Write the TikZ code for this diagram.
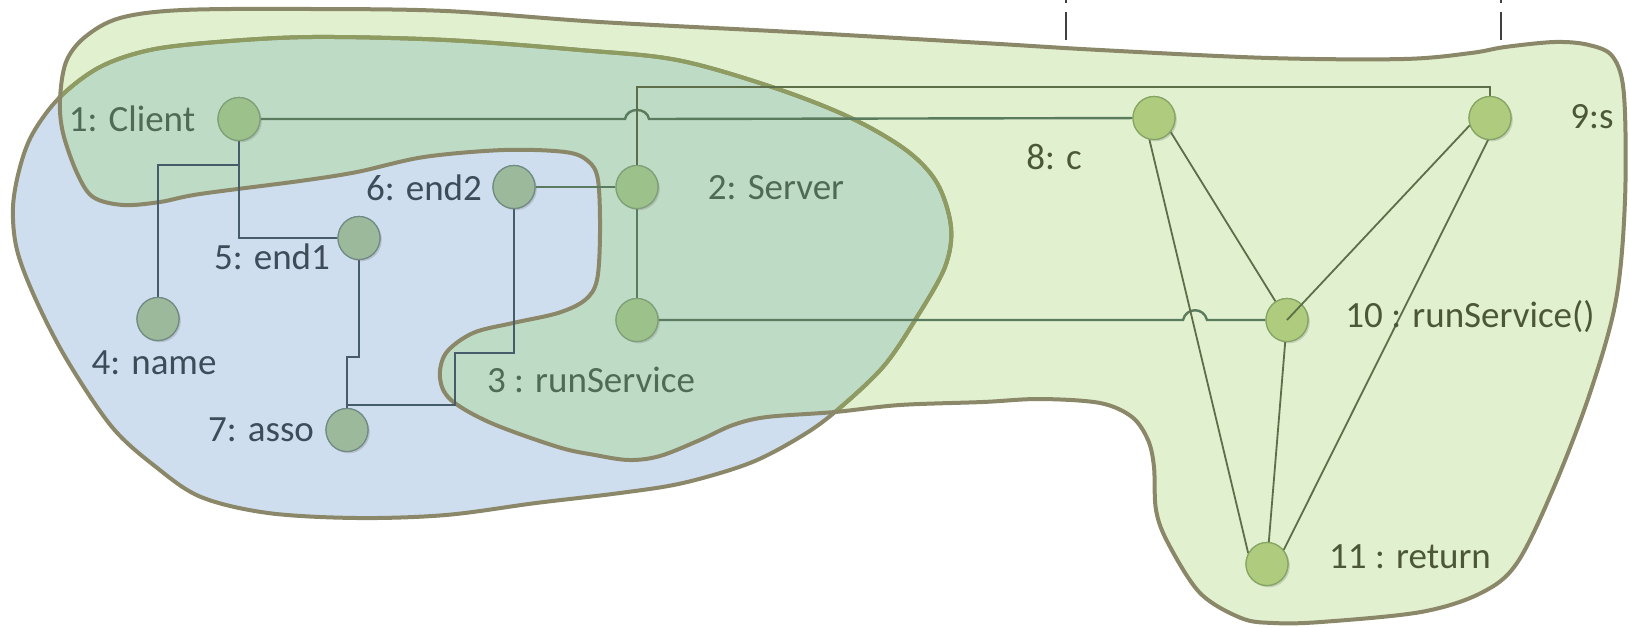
\documentclass[tikz,border=0pt]{standalone}
\usepackage{fontspec}
\setmainfont{Carlito}
\usetikzlibrary{shapes.geometric,shadows}

\definecolor{blobgreen}{HTML}{E1F0CF}
\definecolor{blobblue}{HTML}{CFDEEE}
\definecolor{bloboverlap}{HTML}{BEDBC5}
\definecolor{blobline}{HTML}{8B8769}
\definecolor{blobinner}{HTML}{8E9C61}
\definecolor{dotgreen}{HTML}{AFCB7E}
\definecolor{dotgreenrim}{HTML}{86A463}
\definecolor{dotmix}{HTML}{9DC18B}
\definecolor{dotmixrim}{HTML}{7E9F78}
\definecolor{dotblue}{HTML}{9DB99B}
\definecolor{dotbluerim}{HTML}{6F8B84}
\definecolor{wireslate}{HTML}{475C6B}
\definecolor{wiremix}{HTML}{5B7B5E}
\definecolor{wireolive}{HTML}{5C6F48}
\definecolor{txtmix}{HTML}{4F6B57}
\definecolor{txtblue}{HTML}{3E4C5A}
\definecolor{txtolive}{HTML}{4C5638}

\tikzset{
  dot/.style={ellipse, minimum width=21pt, minimum height=21.5pt, inner sep=0pt,
    line width=0.6pt, drop shadow={shadow xshift=0.9pt, shadow yshift=-0.9pt, opacity=0.16}},
  dotg/.style={dot, fill=dotgreen, draw=dotgreenrim},
  dotm/.style={dot, fill=dotmix, draw=dotmixrim},
  dotb/.style={dot, fill=dotblue, draw=dotbluerim},
  lbl/.style={inner sep=0pt, font=\fontsize{18.5}{22}\selectfont},
  wire/.style={line width=1.2pt},
  thinwire/.style={line width=0.9pt, draw=wireolive},
  rim/.style={line width=2pt, draw=blobline},
  tick/.style={line width=1.2pt, draw=black!75}
}

% outline of the large group (top band, right lobe, bottom bulge)
\def\pathG{plot[smooth cycle, tension=0.55] coordinates {
  (60,100) (66,62) (85,37) (120,18) (183,10) (312,9) (446,11) (600,22) (792,32)
  (983,43) (1100,50) (1269,58) (1404,59) (1471,53) (1505,47) (1555,42) (1589,45)
  (1613,57) (1624,95) (1625,200) (1616,300) (1590,393) (1554,487) (1517,563)
  (1481,593) (1421,612) (1321,622) (1273,623) (1241,618) (1200,593) (1168,543)
  (1156,510) (1154,467) (1148,440) (1132,417) (1100,403) (1040,399) (983,402)
  (900,405) (835,412) (767,417) (733,425) (700,440) (660,456) (629,460) (595,455)
  (558,447) (491,423) (451,400) (440,378) (446,353) (473,333) (513,323) (558,313)
  (585,300) (597,280) (600,233) (598,180) (588,161) (565,152) (504,150) (424,157)
  (357,172) (300,181) (200,194) (160,202) (123,205) (93,197) (77,173) (63,133)}}

% outline of the left group
\def\pathB{plot[smooth cycle, tension=0.55] coordinates {
  (60,97) (100,67) (150,50) (217,42) (312,37) (446,40) (580,50) (677,60) (772,87)
  (849,117) (906,150) (937,183) (951,227) (945,267) (917,317) (883,367) (835,412)
  (800,437) (750,463) (683,483) (620,493) (536,503) (446,515) (357,518) (268,513)
  (201,497) (156,467) (112,427) (67,360) (36,300) (17,250) (13,207) (20,167) (33,133)}}

\begin{document}
\begin{tikzpicture}[x=0.5pt, y=-0.5pt]
\useasboundingbox (0,0) rectangle (1629,627);

% group areas
\fill[blobblue] \pathB;
\fill[blobgreen] \pathG;
\begin{scope}
  \clip \pathG;
  \fill[bloboverlap] \pathB;
\end{scope}
\draw[rim] \pathB;
\begin{scope}
  \clip \pathG;
  \draw[rim, draw=blobinner] \pathB;
\end{scope}
\draw[rim] \pathG;

% lifeline stubs at the top edge
\coordinate (t1a) at (1066,0); \coordinate (t1b) at (1066,3);
\coordinate (t1c) at (1066,12); \coordinate (t1d) at (1066,40);
\coordinate (t2a) at (1501,0); \coordinate (t2b) at (1501,3);
\coordinate (t2c) at (1501,12); \coordinate (t2d) at (1501,40);
\draw[tick] (t1a) -- (t1b) (t1c) -- (t1d);
\draw[tick] (t2a) -- (t2b) (t2c) -- (t2d);

% nodes
\node[dotm] (n1) at (239,119) {};
\node[dotm] (n2) at (637,187) {};
\node[dotm] (n3) at (637,320) {};
\node[dotb] (n4) at (158,319) {};
\node[dotb] (n5) at (359,238) {};
\node[dotb] (n6) at (514,187) {};
\node[dotb] (n7) at (347,430) {};
\node[dotg] (n8) at (1154,118) {};
\node[dotg] (n9) at (1490,118) {};
\node[dotg] (n10) at (1287,320) {};
\node[dotg] (n11) at (1267,564) {};

% bend points of the routed links
\coordinate (top) at (0,87);
\coordinate (k14) at (0,165);
\coordinate (j57) at (347,357);
\coordinate (j67a) at (455,353);
\coordinate (j67b) at (347,405);
\coordinate (h1a) at (625,119);
\coordinate (h1b) at (649,119);
\coordinate (h2a) at (1183,320);
\coordinate (h2b) at (1207,320);

% links (drawn beneath the node discs)
\draw[wire, draw=wiremix] (n1) -- (h1a) .. controls (627,107) and (647,107) .. (h1b) -- (n8);
\draw[wire, draw=wireolive] (n2) -- (n2 |- top) -| (n9);
\draw[wire, draw=wiremix] (n2) -- (n3);
\draw[wire, draw=wiremix] (n6) -- (n2);
\draw[wire, draw=wiremix] (n3) -- (h2a) .. controls (1186,307) and (1204,307) .. (h2b) -- (n10);
\draw[wire, draw=wireslate] (n1) -- (n1 |- k14) -| (n4);
\draw[wire, draw=wireslate] (n1) |- (n5);
\draw[wire, draw=wireslate] (n5) |- (j57) -- (n7);
\draw[wire, draw=wireslate] (n6) |- (j67a) |- (j67b) -- (n7);
\draw[thinwire] (n8.320) -- (n10);
\draw[thinwire] (n8.258) -- (n11.150);
\draw[thinwire] (n9.265) -- (n11.40);
\draw[thinwire] (n10) -- (n11);

% redraw discs over the links
\node[dotm] at (n1) {};
\node[dotm] at (n2) {};
\node[dotm] at (n3) {};
\node[dotb] at (n4) {};
\node[dotb] at (n5) {};
\node[dotb] at (n6) {};
\node[dotb] at (n7) {};
\node[dotg] at (n8) {};
\node[dotg] at (n9) {};
\node[dotg] at (n10) {};
\node[dotg] at (n11) {};

\draw[thinwire] (n9.200) -- (n10.center);

% labels
\node[lbl, text=txtmix] (l1) at (132,119) {1: Client};
\node[lbl, text=txtmix] (l2) at (776,188) {2: Server};
\node[lbl, text=txtmix] (l3) at (591,380) {3 : runService};
\node[lbl, text=txtblue] (l4) at (154,363) {4: name};
\node[lbl, text=txtblue] (l5) at (272,257) {5: end1};
\node[lbl, text=txtblue] (l6) at (424,188) {6: end2};
\node[lbl, text=txtblue] (l7) at (261,430) {7: asso};
\node[lbl, text=txtolive] (l8) at (1054,157) {8: c};
\node[lbl, text=txtolive] (l9) at (1592,117) {9:s};
\node[lbl, text=txtolive] (l10) at (1470,317) {10 : runService()};
\node[lbl, text=txtolive] (l11) at (1410,557) {11 : return};
\end{tikzpicture}
\end{document}
